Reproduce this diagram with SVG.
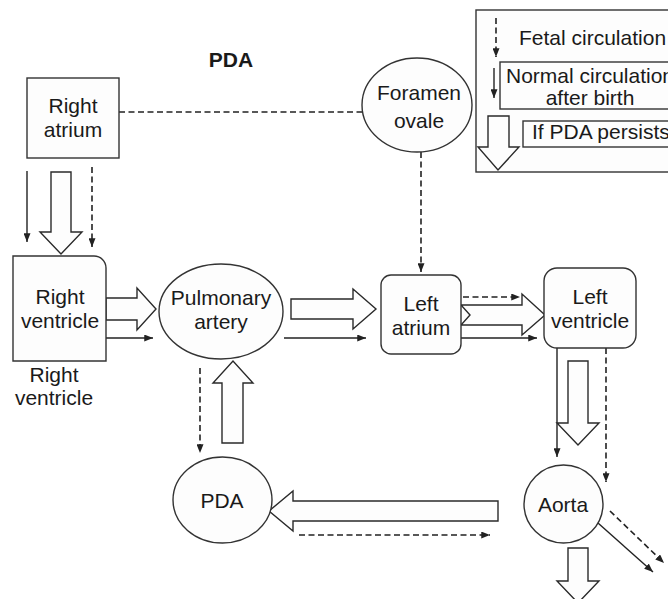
<svg xmlns="http://www.w3.org/2000/svg" width="668" height="599" viewBox="0 0 668 599">
  <style>
    .shape { fill: #fdfdfd; stroke: #333; stroke-width: 1.4; }
    .hollow { fill: #fdfdfd; stroke: #2a2a2a; stroke-width: 1.4; stroke-linejoin: miter; }
    .solid { fill: none; stroke: #222; stroke-width: 1.4; marker-end: url(#ah); }
    .dash { fill: none; stroke: #222; stroke-width: 1.6; stroke-dasharray: 6 3.5; marker-end: url(#ah); }
    .dashplain { fill: none; stroke: #222; stroke-width: 1.6; stroke-dasharray: 6 3.5; }
    text { font-family: "Liberation Sans", Arial, sans-serif; font-size: 21px; fill: #1a1a1a; text-anchor: middle; }
    .title { font-weight: bold; }
    .left { text-anchor: start; }
  </style>
  <defs>
    <marker id="ah" viewBox="0 0 10 8" refX="10" refY="4" markerWidth="9" markerHeight="7" markerUnits="userSpaceOnUse" orient="auto">
      <path d="M0,0 L10,4 L0,8 Z" fill="#222"/>
    </marker>
  </defs>
  <rect width="668" height="599" fill="#fff"/>

  <text class="title" x="231" y="67">PDA</text>

  <!-- Legend -->
  <g id="legend">
    <rect class="shape" x="476" y="10" width="210" height="162"/>
    <line class="dash" x1="496" y1="18" x2="496" y2="57"/>
    <text class="left" x="519" y="45">Fetal circulation</text>
    <line class="solid" x1="494" y1="68" x2="494" y2="98"/>
    <rect class="shape" x="500" y="62" width="190" height="47"/>
    <text x="590" y="83">Normal circulation</text>
    <text x="590" y="105">after birth</text>
    <path class="hollow" d="M488,116 H509 V147 H519 L498,170 L478,147 H488 Z"/>
    <rect class="shape" x="523" y="121" width="170" height="26"/>
    <text class="left" x="532" y="139">If PDA persists</text>
  </g>

  <!-- Connectors -->
  <g id="connectors">
    <line class="solid" x1="27" y1="171" x2="27" y2="242"/>
    <path class="hollow" d="M51,172 H71 V232 H82 L61,254 L40,232 H51 Z"/>
    <line class="dash" x1="92" y1="167" x2="92" y2="247"/>
    <line class="dashplain" x1="119" y1="112" x2="362" y2="112"/>
    <line class="dash" x1="421" y1="152" x2="421" y2="272"/>

    <path class="hollow" d="M106,298 H137 V288 L156,309 L137,330 V320 H106 Z"/>
    <line class="solid" x1="106" y1="338" x2="153" y2="338"/>

    <path class="hollow" d="M291,299 H353 V289 L376,309 L353,329 V319 H291 Z"/>
    <line class="solid" x1="284" y1="338" x2="366" y2="338"/>

    <line class="dash" x1="463" y1="297" x2="520" y2="297"/>
    <path class="hollow" d="M461,305 H522 V294 L545,315 L522,335 V325 H461 L470,315 Z"/>
    <line class="solid" x1="461" y1="338" x2="537" y2="338"/>

    <line class="dash" x1="200" y1="368" x2="200" y2="453"/>
    <path class="hollow" d="M222,443 V383 H213 L233,361 L253,383 H243 V443 Z"/>

    <line class="solid" x1="557" y1="348" x2="557" y2="457"/>
    <path class="hollow" d="M568,361 H588 V423 H599 L578,445 L557,423 H568 Z"/>
    <line class="dash" x1="606" y1="348" x2="606" y2="482"/>

    <path class="hollow" d="M498,501 V521 H293 V531 L269,511 L293,491 V501 Z"/>
    <line class="dash" x1="299" y1="535" x2="490" y2="535"/>

    <line class="solid" x1="598" y1="523" x2="653" y2="572"/>
    <line class="dash" x1="610" y1="511" x2="664" y2="563"/>
    <path class="hollow" d="M568,548 H588 V581 H599 L578,603 L557,581 H568 Z"/>
  </g>

  <!-- Nodes -->
  <g id="right-atrium">
    <rect class="shape" x="27" y="78" width="92" height="80"/>
    <text x="73" y="113">Right</text>
    <text x="73" y="137">atrium</text>
  </g>

  <g id="foramen-ovale">
    <ellipse class="shape" cx="417" cy="105" rx="55" ry="47"/>
    <text x="419" y="100">Foramen</text>
    <text x="419" y="128">ovale</text>
  </g>

  <g id="right-ventricle">
    <path class="shape" d="M13,256 H94 A12,12 0 0 1 106,268 V361 H13 Z"/>
    <text x="60" y="304">Right</text>
    <text x="60" y="328">ventricle</text>
    <text x="54" y="382">Right</text>
    <text x="54" y="405">ventricle</text>
  </g>

  <g id="pulmonary-artery">
    <ellipse class="shape" cx="221" cy="311.5" rx="62" ry="47.5"/>
    <text x="221" y="305">Pulmonary</text>
    <text x="221" y="329">artery</text>
  </g>

  <g id="left-atrium">
    <rect class="shape" x="381" y="275" width="80" height="79" rx="10" ry="10"/>
    <text x="421" y="311">Left</text>
    <text x="421" y="335">atrium</text>
  </g>

  <g id="left-ventricle">
    <rect class="shape" x="544" y="268" width="92" height="80" rx="13" ry="13"/>
    <text x="590" y="304">Left</text>
    <text x="590" y="328">ventricle</text>
  </g>

  <g id="pda">
    <ellipse class="shape" cx="222.5" cy="500" rx="49.5" ry="43"/>
    <text x="222" y="508">PDA</text>
  </g>

  <g id="aorta">
    <ellipse class="shape" cx="563.5" cy="504" rx="39.5" ry="39"/>
    <text x="563" y="512">Aorta</text>
  </g>
</svg>
